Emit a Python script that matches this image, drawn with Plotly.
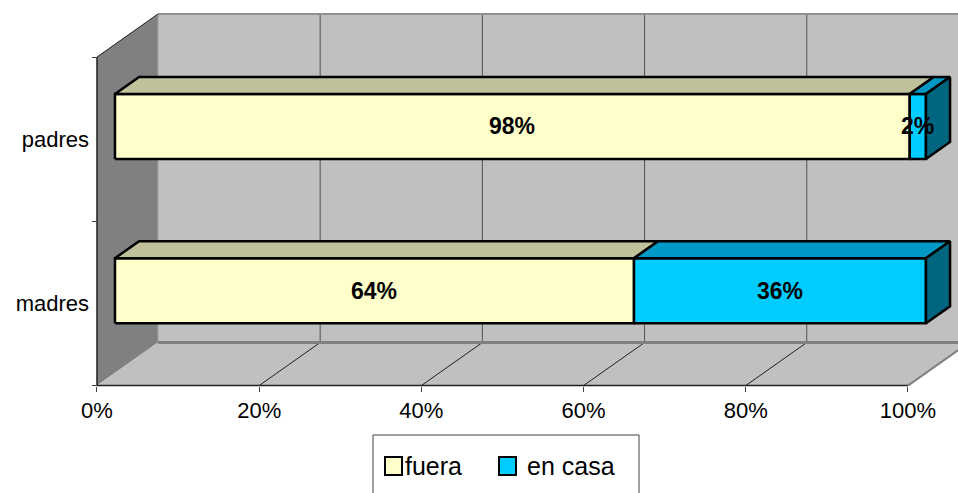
import plotly.graph_objects as go

# ---- data -------------------------------------------------------------
categories = ["madres", "padres"]
fuera = [64, 98]
en_casa = [36, 2]
x_ticks = [0, 20, 40, 60, 80, 100]
x_tick_labels = ["0%", "20%", "40%", "60%", "80%", "100%"]

series = [
    # name, values, front, top, side
    ("fuera", fuera, "#FFFFCC", "#C0C09A", "#8F8F70"),
    ("en casa", en_casa, "#00CCFF", "#0099C6", "#006680"),
]

# ---- geometry of the pseudo-3D box ------------------------------------
W, H = 958, 493
X_MIN, X_MAX = -11.96, 106.17
Y_MIN, Y_MAX = -1.154, 1.847
DX = 7.52      # depth shift along x (percent units)
DY = 0.262     # depth shift along y (category units)
F0, F1 = 0.295, 0.69   # bar front / back depth fractions
HALF = 0.198   # half bar thickness
FONT = "Liberation Sans, Arial, sans-serif"

Y_LO, Y_HI = -0.5, len(categories) - 0.5

fig = go.Figure()


def poly(xs, ys, fill, line_color="black", width=0.0):
    fig.add_trace(go.Scatter(
        x=list(xs) + [xs[0]], y=list(ys) + [ys[0]],
        mode="lines", fill="toself", fillcolor=fill,
        line=dict(color=line_color, width=width),
        hoverinfo="skip", showlegend=False))


def seg(xs, ys, color, width):
    fig.add_trace(go.Scatter(
        x=xs, y=ys, mode="lines", line=dict(color=color, width=width),
        hoverinfo="skip", showlegend=False))


FAR = 100 + DX + 5

# walls and floor
poly([0, DX, DX, 0], [Y_LO, Y_LO + DY, Y_HI + DY, Y_HI], "#808080", "#808080", 0)
poly([DX, FAR, FAR, DX], [Y_LO + DY, Y_LO + DY, Y_HI + DY, Y_HI + DY], "#C0C0C0", "#C0C0C0", 0)
poly([0, 100, 100 + DX, DX], [Y_LO, Y_LO, Y_LO + DY, Y_LO + DY], "#C0C0C0", "#C0C0C0", 0)

# back-wall gridlines and floor diagonals
for t in x_ticks[1:-1]:
    seg([t + DX, t + DX], [Y_LO + DY, Y_HI + DY], "#505050", 1)
    seg([t, t + DX], [Y_LO, Y_LO + DY], "#202020", 1)

seg([DX, FAR], [Y_HI + DY, Y_HI + DY], "#909090", 2)
seg([DX, DX], [Y_LO + DY, Y_HI + DY], "#A0A0A0", 1)
seg([DX, FAR], [Y_LO + DY, Y_LO + DY], "#808080", 3)
seg([100, 100 + DX], [Y_LO, Y_LO + DY], "#808080", 2)
seg([0, 100], [Y_LO, Y_LO], "#202020", 1.5)
seg([0, 0], [Y_LO, Y_HI], "#202020", 1.5)
seg([0, DX], [Y_HI, Y_HI + DY], "#202020", 1)

# stacked 3D bars
annotations = []
for i, cat in enumerate(categories):
    start = 0
    yb, yt = i - HALF, i + HALF
    for k, (name, vals, front, top, side) in enumerate(series):
        v = vals[i]
        x0, x1 = start, start + v
        a0, a1 = F0 * DX, F1 * DX
        b0, b1 = F0 * DY, F1 * DY
        poly([x0 + a0, x1 + a0, x1 + a0, x0 + a0],
             [yb + b0, yb + b0, yt + b0, yt + b0], front, "black", 2.5)
        poly([x0 + a0, x1 + a0, x1 + a1, x0 + a1],
             [yt + b0, yt + b0, yt + b1, yt + b1], top, "black", 2.5)
        if k == len(series) - 1:
            poly([x1 + a0, x1 + a1, x1 + a1, x1 + a0],
                 [yb + b0, yb + b1, yt + b1, yt + b0], side, "black", 2.5)
        annotations.append(dict(
            x=(x0 + x1) / 2 + a0, y=i + b0, xref="x", yref="y",
            text=f"<b>{v}%</b>", showarrow=False,
            font=dict(family=FONT, size=23, color="black")))
        start = x1

# legend box
annotations += [
    dict(x=403 / W, y=1 - 466 / H, xref="paper", yref="paper",
         xanchor="left", yanchor="middle",
         text="fuera", showarrow=False, font=dict(family=FONT, size=25, color="black")),
    dict(x=525 / W, y=1 - 466 / H, xref="paper", yref="paper",
         xanchor="left", yanchor="middle",
         text="en casa", showarrow=False, font=dict(family=FONT, size=25, color="black")),
]
shapes = [
    dict(type="rect", xref="paper", yref="paper", x0=373 / W, x1=639 / W,
         y0=-0.05, y1=1 - 435 / H, line=dict(color="#404040", width=1), fillcolor="white"),
    dict(type="rect", xref="paper", yref="paper", x0=385 / W, x1=402 / W,
         y0=1 - 475 / H, y1=1 - 457 / H, line=dict(color="black", width=2), fillcolor=series[0][2]),
    dict(type="rect", xref="paper", yref="paper", x0=499 / W, x1=516 / W,
         y0=1 - 475 / H, y1=1 - 457 / H, line=dict(color="black", width=2), fillcolor=series[1][2]),
]

fig.update_layout(
    width=W, height=H,
    margin=dict(l=0, r=0, t=0, b=0, pad=0),
    paper_bgcolor="white", plot_bgcolor="white",
    showlegend=False,
    annotations=annotations, shapes=shapes,
    xaxis=dict(
        range=[X_MIN, X_MAX], domain=[0, 1], anchor="free",
        position=(Y_LO - Y_MIN) / (Y_MAX - Y_MIN),
        tickmode="array", tickvals=x_ticks, ticktext=x_tick_labels,
        ticks="outside", ticklen=5, tickcolor="#404040", tickwidth=1,
        showgrid=False, zeroline=False, showline=False, automargin=False,
        tickfont=dict(family=FONT, size=22, color="black"), fixedrange=True),
    yaxis=dict(
        range=[Y_MIN, Y_MAX], domain=[0, 1], anchor="free",
        position=(0 - X_MIN) / (X_MAX - X_MIN),
        tickmode="array", tickvals=list(range(len(categories))), ticktext=categories,
        ticks="", ticklabelstandoff=8,
        minor=dict(tickmode="array", tickvals=[Y_LO, 0.5, Y_HI], ticks="outside",
                   ticklen=5, tickcolor="#404040", tickwidth=1, showgrid=False),
        showgrid=False, zeroline=False, showline=False, automargin=False,
        tickfont=dict(family=FONT, size=22, color="black"), fixedrange=True),
)

fig.write_html("out.html")
